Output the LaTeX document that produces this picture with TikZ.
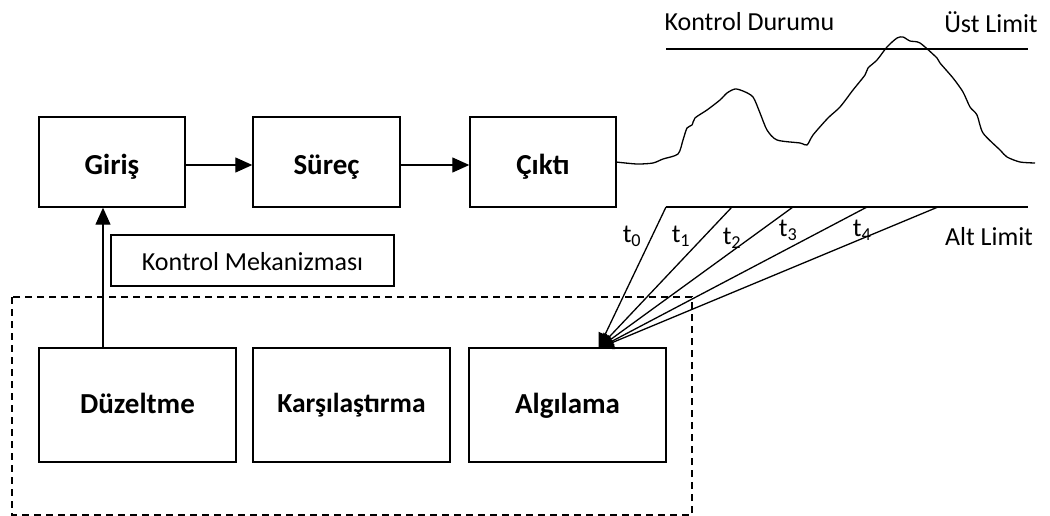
\documentclass[tikz,border=0pt]{standalone}
\usepackage{fontspec}
\setmainfont{Carlito}
\usetikzlibrary{arrows.meta}
\begin{document}
\begin{tikzpicture}[x=1pt,y=-1pt,
  box/.style={draw,line width=1.4pt,rectangle,inner sep=0pt,text depth=0pt,font=\fontsize{29}{33}\selectfont\bfseries},
  toprow/.style={box,minimum height=90pt,text height=26pt},
  botrow/.style={box,minimum width=197pt,minimum height=114pt,text height=16pt},
  lbl/.style={inner sep=0pt,font=\fontsize{26}{30}\selectfont},
  arr/.style={line width=1.3pt,-{Triangle[length=17pt,width=15pt]}},
  fan/.style={line width=1.3pt,-{Triangle[length=15pt,width=14pt]}},
  dashbox/.style={draw,line width=1.4pt,dash pattern=on 7pt off 5pt}]
\useasboundingbox (0,0) rectangle (1050,516);
% top row
\node[toprow,minimum width=146pt] (gir) at (112,162) {Giriş};
\node[toprow,minimum width=147pt] (sur) at (326.5,162) {Süreç};
\node[toprow,minimum width=146pt] (cik) at (543,162) {Çıktı};
\draw[arr] ([yshift=-3pt]gir.east) -- ([yshift=-3pt]sur.west);
\draw[arr] ([yshift=-3pt]sur.east) -- ([yshift=-3pt]cik.west);
% control mechanism
\node[box,font=\fontsize{26}{30}\selectfont,text height=19pt,minimum width=283pt,minimum height=51pt] (km) at (252.5,260.5) {Kontrol Mekanizması};
\draw[dashbox] (12,297) rectangle (692,515);
\node[botrow] (duz) at (137.5,405) {Düzeltme};
\node[botrow,font=\fontsize{27.5}{31}\selectfont\bfseries,text height=14pt] (kar) at (351.5,405) {Karşılaştırma};
\node[botrow] (alg) at (567.5,405) {Algılama};
\draw[arr] (duz.north -| 103,0) -- (gir.south -| 103,0);
% limits
\coordinate (u0) at (666,49);
\coordinate (u1) at (1028,49);
\draw[line width=1.4pt] (u0) -- (u1);
\coordinate (l0) at (666,207);
\coordinate (l1) at (1028,207);
\draw[line width=1.4pt] (l0) -- (l1);
\node[lbl] (kd) at (749.5,22) {Kontrol Durumu};
\node[lbl] (ul) at (991,22) {Üst Limit};
\node[lbl] (al) at (989,237) {Alt Limit};
% curve
\draw[line width=1.3pt,line join=round] plot[smooth,tension=0.45] coordinates {
 (616,162) (637,164) (653,163) (663,159) (678,154) (683,140) (687,128) (692,125)
 (695,118) (707,110) (720,100) (727,93) (735,89) (743,91) (753,97) (760,113)
 (767,130) (777,140) (800,143) (807,145) (813,135) (828,118) (840,107) (853,90)
 (865,75) (868,68) (877,60) (887,47) (897,38) (903,37) (910,41) (920,43)
 (937,58) (940,63) (953,78) (963,92) (970,107) (977,115) (983,133) (1000,150)
 (1007,157) (1020,162) (1035,163)};
% fan
\coordinate (tip) at ([xshift=31pt,yshift=-1pt]alg.north);
\coordinate (f0) at (666,207);
\coordinate (f1) at (732,207);
\coordinate (f2) at (793,207);
\coordinate (f3) at (867,207);
\coordinate (f4) at (938,207);
\foreach \i in {4,3,2,1,0} {\draw[fan] (f\i) -- (tip);}
\node[lbl] (t0) at (632,236) {t\textsubscript{0}};
\node[lbl] (t1) at (681,236) {t\textsubscript{1}};
\node[lbl] (t2) at (732,238) {t\textsubscript{2}};
\node[lbl] (t3) at (788,230) {t\textsubscript{3}};
\node[lbl] (t4) at (862,230) {t\textsubscript{4}};
\end{tikzpicture}
\end{document}
